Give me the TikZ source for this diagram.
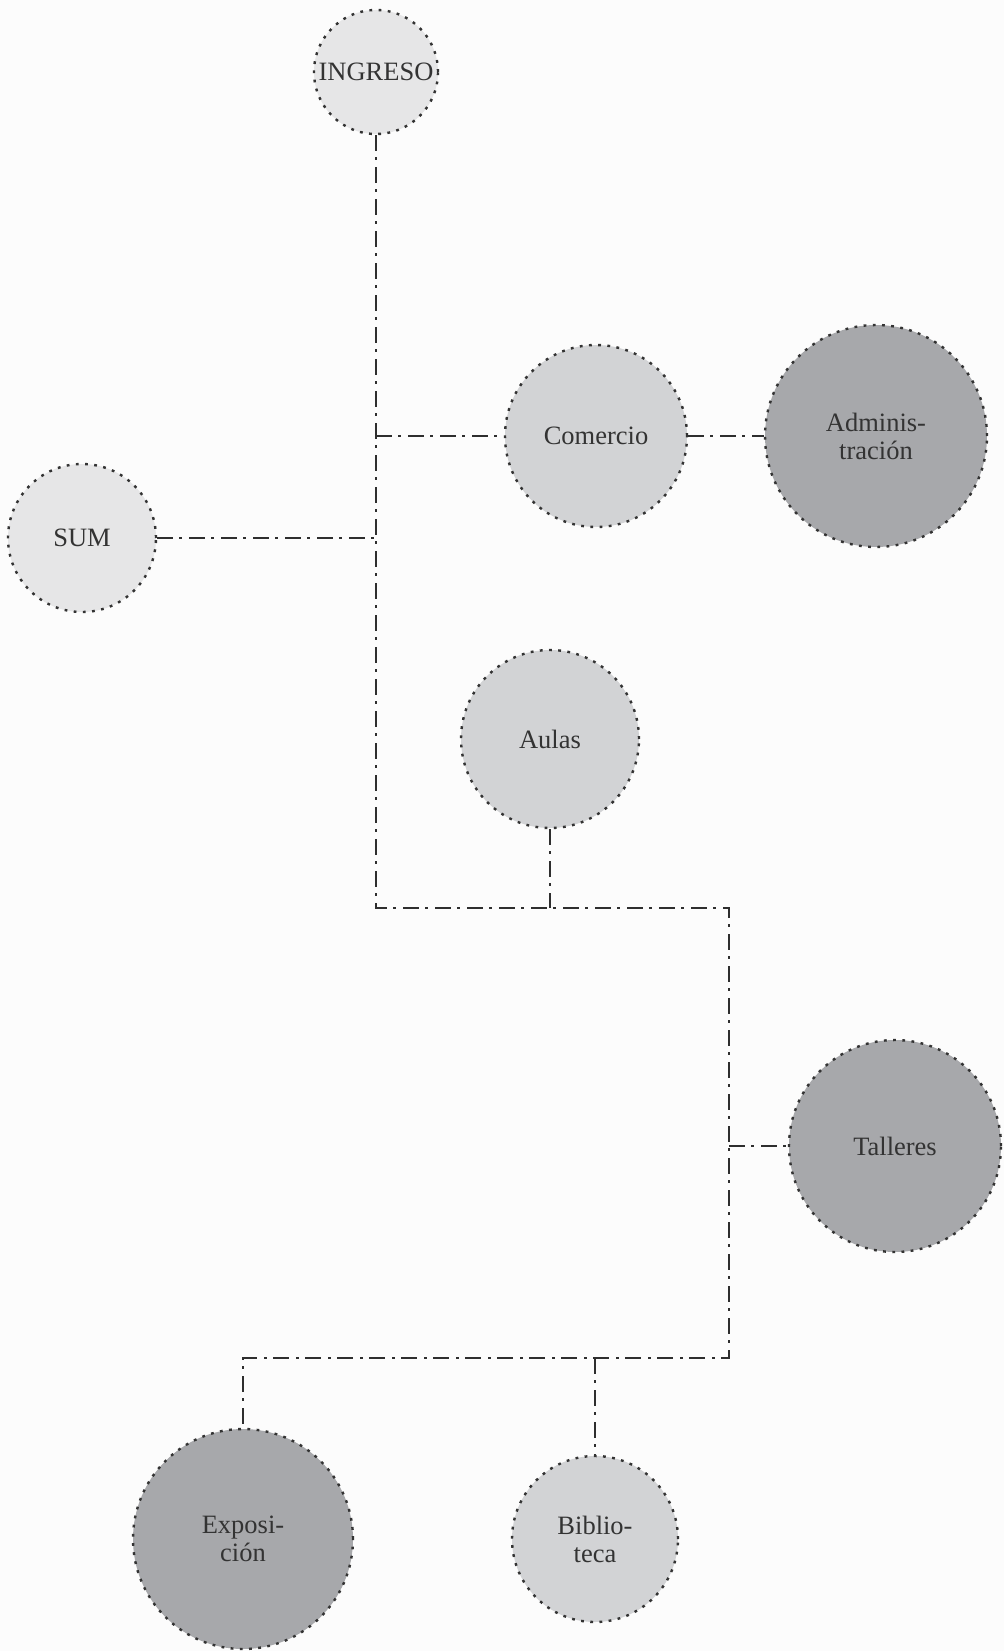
\documentclass[tikz,border=0pt]{standalone}
\usepackage{fontspec}
\setmainfont{Liberation Serif}
\begin{document}
\begin{tikzpicture}[x=1pt,y=-1pt,
  bubble/.style={circle, inner sep=0pt, draw=black!80, line width=2.4pt,
    dash pattern=on 2.8pt off 6.4pt, text=black!80,
    font=\fontsize{26.5}{28}\selectfont, align=center},
  light/.style={bubble, fill=light},
  mid/.style={bubble, fill=midg},
  dark/.style={bubble, fill=darkg},
  link/.style={draw=black!82, line width=2.8pt,
    dash pattern=on 16pt off 6pt on 3pt off 7pt}]
\definecolor{light}{HTML}{E6E6E7}
\definecolor{midg}{HTML}{D2D3D5}
\definecolor{darkg}{HTML}{A7A8AB}
\fill[white!99!black] (0,0) rectangle (1004,1651);
\useasboundingbox (0,0) rectangle (1004,1651);

\node[light, minimum size=124pt] (ing) at (376,72) {INGRESO};
\node[mid, minimum size=182pt] (com) at (596,436) {Comercio};
\node[dark, minimum size=222pt] (adm) at (876,436) {Adminis-\\tración};
\node[light, minimum size=148pt] (sum) at (82,538) {SUM};
\node[mid, minimum size=178pt] (aul) at (550,739) {Aulas};
\node[dark, minimum size=212pt] (tal) at (895,1146) {Talleres};
\node[dark, minimum size=220pt] (exp) at (243,1539) {Exposi-\\ción};
\node[mid, minimum size=166pt] (bib) at (595,1539) {Biblio-\\teca};

\coordinate (tc) at (376,436);
\coordinate (ts) at (376,538);
\coordinate (c1) at (376,908);
\coordinate (ca) at (550,908);
\coordinate (c2) at (729,908);
\coordinate (tt) at (729,1146);
\coordinate (c3) at (729,1358);
\coordinate (cb) at (595,1358);
\coordinate (c4) at (243,1358);

\path[link] (ing.south) -- (c1) -- (c2) -- (c3) -- (c4) -- (exp.north);
\path[link] (tc) -- (com.west);
\path[link] (com.east) -- (adm.west);
\path[link] (sum.east) -- (ts);
\path[link] (aul.south) -- (ca);
\path[link] (tt) -- (tal.west);
\path[link] (cb) -- (bib.north);
\end{tikzpicture}
\end{document}
